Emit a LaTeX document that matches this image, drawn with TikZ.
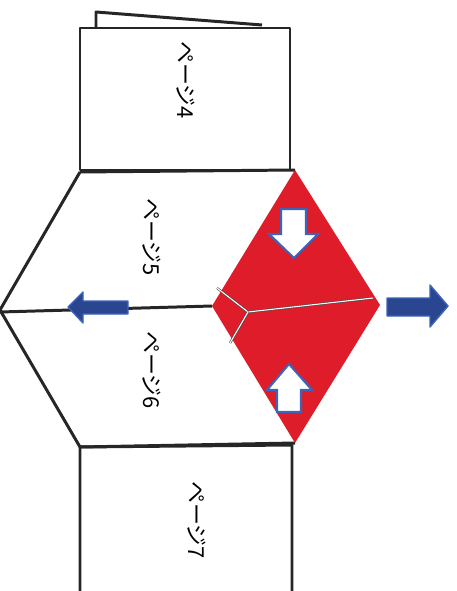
\documentclass[tikz,border=0pt]{standalone}
\usepackage{fontspec}
\newfontfamily\jpfont{Noto Sans CJK JP}
\definecolor{foldred}{RGB}{222,28,42}
\definecolor{arrowblue}{RGB}{42,70,145}
\definecolor{edgeblue}{RGB}{60,100,185}

\begin{document}
\begin{tikzpicture}[
x=0.02cm, y=-0.02cm,
sheet/.style={draw=black!85, line width=1.7pt, line join=round},
pagelabel/.style={font=\jpfont\fontsize{12.5}{14}\selectfont, rotate=-90, inner sep=0pt},
crease/.style={draw=black!70, line width=1.3pt},
creasetop/.style={draw=white, line width=0.6pt},
movearrow/.style={fill=white, draw=edgeblue, line width=1.2pt, line join=miter},
pullarrow/.style={fill=arrowblue, draw=edgeblue, line width=0.8pt, line join=round}
]
\useasboundingbox (0,0) rectangle (456,591);

% back sheet and page 4
\draw[sheet] (96,28) -- (96,12) -- (262,25);
\draw[sheet, fill=white] (80,28) rectangle (290,170);
\node[pagelabel] (p4) at (186,80) {ページ4};

% folded middle pages
\draw[sheet] (80,172) -- (0,310) -- (80,447);
\draw[sheet] (0,312) -- (212,306);
\draw[sheet] (80,172) -- (295,170);
\draw[sheet] (80,447) -- (295,443);
\node[pagelabel] (p5) at (152,237) {ページ5};
\node[pagelabel] (p6) at (152,370) {ページ6};

% red diamond with creases
\fill[foldred] (295,170) -- (380,305) -- (295,443) -- (212,306) -- cycle;
\foreach \a/\b in {{(248,312)}/{(373,298)}, {(248,312)}/{(217,288)}, {(248,312)}/{(230,343)}}{
  \draw[crease] \a -- \b;
  \draw[creasetop] \a -- \b;
}

% white arrows
\draw[movearrow] (281,209) -- (306,209) -- (306,234) -- (318,234) -- (294,258)
  -- (269,234) -- (281,234) -- cycle;
\draw[movearrow] (277,412) -- (301,412) -- (301,390) -- (312,390) -- (289,364)
  -- (267,390) -- (277,390) -- cycle;

% blue arrows
\draw[pullarrow] (128,301) -- (83,301) -- (83,292) -- (68,307) -- (83,323)
  -- (83,314) -- (128,314) -- cycle;
\draw[pullarrow] (387,298) -- (430,298) -- (430,285) -- (448,306) -- (430,327)
  -- (430,316) -- (387,316) -- cycle;

% page 7
\draw[sheet] (80,591) -- (80,447) -- (292,445) -- (292,591);
\node[pagelabel] (p7) at (197,520) {ページ7};
\end{tikzpicture}
\end{document}
